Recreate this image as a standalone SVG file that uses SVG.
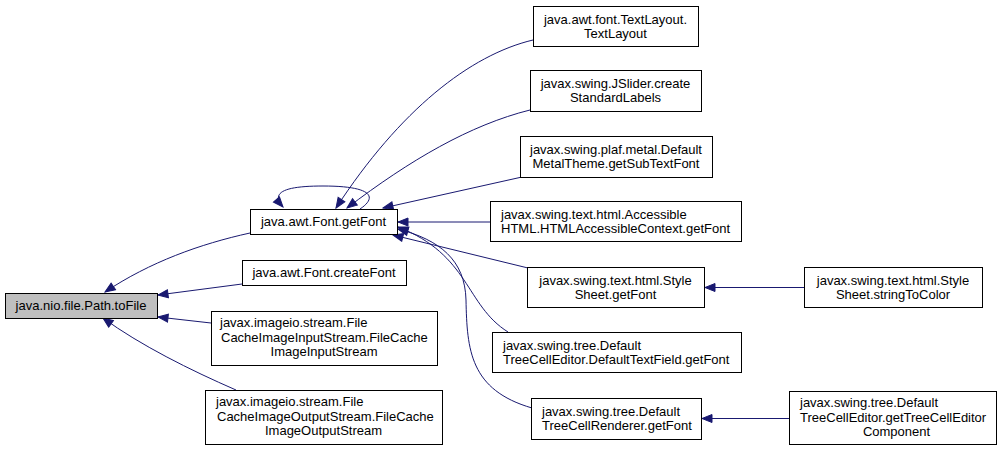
<svg xmlns="http://www.w3.org/2000/svg" width="1001" height="451" viewBox="0 0 1001 451">
<style>
.n rect{fill:#fff;stroke:#000;stroke-width:1}
.n.hl rect{fill:#bfbfbf}
.n text{font-family:"Liberation Sans",Arial,sans-serif;font-size:13px;fill:#000}
.c{text-anchor:middle}
.e path{fill:none;stroke:#191970;stroke-width:1;marker-end:url(#ah)}
</style>
<defs>
<marker id="ah" markerUnits="userSpaceOnUse" markerWidth="11" markerHeight="9" refX="10" refY="4" orient="auto" overflow="visible">
<path d="M0,0 L10,4 L0,8 z" fill="#191970" stroke="#191970" stroke-width="1"/>
</marker>
</defs>
<rect width="1001" height="451" fill="#fff"/>
<g class="e" id="edges">
<path d="M250,233 C200,244 150,262 105,292"/>
<path d="M242,284 L158,295"/>
<path d="M211,323 L158,317"/>
<path d="M236,390 C190,370 140,345 103,318"/>
<path d="M360,209 C378,197 372,186 323,186 C285,186 270,192 283,207"/>
<path d="M533,40 C470,55 400,110 336,208"/>
<path d="M530,110 C470,125 410,160 347,208"/>
<path d="M522,177 L383,208"/>
<path d="M490,222 L398,222"/>
<path d="M528,268 L393,235"/>
<path d="M508,332 C465,305 470,255 398,227"/>
<path d="M532,408 C470,390 467,350 466,300 C465,260 440,240 398,229"/>
<path d="M804,287.5 L705,287.5"/>
<path d="M789,418.5 L702,418.5"/>
</g>
<g class="n hl" id="toFile"><rect x="5.5" y="293.5" width="152" height="25"/><text class="c" x="81" y="310">java.nio.file.Path.toFile</text></g>
<g class="n" id="getFont"><rect x="250.5" y="209.5" width="147" height="25"/><text class="c" x="323.5" y="226">java.awt.Font.getFont</text></g>
<g class="n" id="createFont"><rect x="242.5" y="260.5" width="164" height="25"/><text class="c" x="324" y="277">java.awt.Font.createFont</text></g>
<g class="n" id="fcInput"><rect x="211.5" y="311.5" width="226" height="54"/><text x="220" y="327">javax.imageio.stream.File</text><text x="221" y="341.5">CacheImageInputStream.FileCache</text><text class="c" x="324" y="356">ImageInputStream</text></g>
<g class="n" id="fcOutput"><rect x="205.5" y="390.5" width="237" height="54"/><text x="216" y="406">javax.imageio.stream.File</text><text x="217" y="420.5">CacheImageOutputStream.FileCache</text><text class="c" x="323.5" y="435">ImageOutputStream</text></g>
<g class="n" id="textLayout"><rect x="533.5" y="6.5" width="165" height="40"/><text class="c" x="615.5" y="24">java.awt.font.TextLayout.</text><text class="c" x="615.5" y="38">TextLayout</text></g>
<g class="n" id="jslider"><rect x="530.5" y="70.5" width="171" height="41"/><text class="c" x="615.5" y="88">javax.swing.JSlider.create</text><text class="c" x="615.5" y="102">StandardLabels</text></g>
<g class="n" id="metal"><rect x="520.5" y="136.5" width="192" height="41"/><text class="c" x="616" y="154">javax.swing.plaf.metal.Default</text><text class="c" x="616" y="168">MetalTheme.getSubTextFont</text></g>
<g class="n" id="accessible"><rect x="490.5" y="201.5" width="251" height="40"/><text x="501" y="219">javax.swing.text.html.Accessible</text><text x="501" y="233">HTML.HTMLAccessibleContext.getFont</text></g>
<g class="n" id="styleGetFont"><rect x="527.5" y="267.5" width="177" height="40"/><text class="c" x="615.5" y="285">javax.swing.text.html.Style</text><text class="c" x="615.5" y="299">Sheet.getFont</text></g>
<g class="n" id="textField"><rect x="492.5" y="332.5" width="249" height="40"/><text x="503" y="350">javax.swing.tree.Default</text><text x="503" y="364">TreeCellEditor.DefaultTextField.getFont</text></g>
<g class="n" id="renderer"><rect x="531.5" y="398.5" width="170" height="41"/><text x="542" y="416">javax.swing.tree.Default</text><text x="542" y="430">TreeCellRenderer.getFont</text></g>
<g class="n" id="stringToColor"><rect x="804.5" y="267.5" width="178" height="40"/><text class="c" x="893" y="285">javax.swing.text.html.Style</text><text class="c" x="893" y="299">Sheet.stringToColor</text></g>
<g class="n" id="editorComponent"><rect x="789.5" y="391.5" width="207" height="53"/><text x="800" y="407">javax.swing.tree.Default</text><text x="800" y="421.5">TreeCellEditor.getTreeCellEditor</text><text class="c" x="896.5" y="436">Component</text></g>
</svg>
